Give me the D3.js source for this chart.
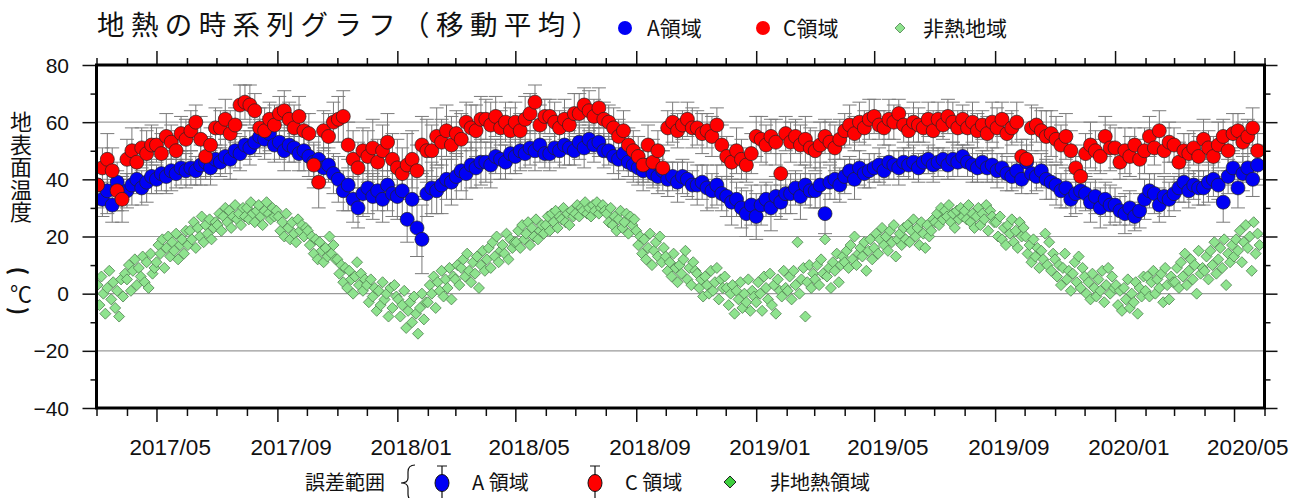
<!DOCTYPE html>
<html>
<head>
<meta charset="utf-8">
<script src="https://cdn.jsdelivr.net/npm/d3@7"></script>
<style>
body { margin: 0; background: #fff; }
text { font-family: "Liberation Sans", Arial, sans-serif; fill: #111; }
.jp { font-family: "Noto Sans CJK JP", "Noto Sans", sans-serif; }
</style>
</head>
<body>
<div id="chart"></div>
<script>
// moving averages of A and C areas, first point 2017-03-02, one every 5 days
const seriesStart = "2017-03-02";
const seriesStep = 5;
const aVals = [
  38,33,36,31,39,35, 36,38,40,37,39,41, 40,42,41,43,42,44,43, 44,43,45,46,44,47, 46,48,47,50,49,52, 51,53,55,54,56,52,
  53,50,52,51,49,50, 48,46,47,44,45,42, 40,36,38,33,30,35, 37,34,36,33,38,35,
  34,36,26,33,23,19,35, 37,36,38,40,39, 41,43,42,45,44,46, 46,45,48,47,46,49, 48,50,49,51,50,52,49, 49,51,50,52,51,50,
  53,51,54,52,53,50, 50,48,47,49,46,45, 44,43,45,42,41,43, 40,41,39,41,40,38, 38,39,37,36,38,35, 34,32,33,30,28,31,
  27,31,33,30,34,32,35, 35,37,34,38,36, 36,38,28,39,40,38, 41,43,40,44,42,43, 44,45,43,46,45,44,46, 45,46,44,46,47,45,
  46,47,45,47,46,48, 46,45,44,46,44,45, 43,44,42,41,43,40, 46,42,41,43,40,39, 38,36,37,33,35,36, 35,32,34,30,33,31,
  31,29,28,30,27,29,33, 36,35,31,34,33, 35,37,39,36,38,37, 37,39,40,38,32,41, 44,37,42,44,40,45];
const aErr = [
  7,6,8,6,7,6, 6,7,5,6,7,6, 5,6,6,7,5,6,6, 6,5,7,6,6,5, 5,6,7,6,6,5, 6,5,6,7,6,6,
  6,7,6,5,6,7, 7,6,8,7,6,7, 8,7,9,8,7,8, 9,8,7,8,9,8,
  8,9,8,9,10,12,8, 9,8,10,7,8, 8,7,9,8,7,8, 7,8,6,7,6,7, 6,7,5,6,7,6,5, 6,5,6,7,6,5,
  6,7,5,6,5,6, 5,6,7,6,5,6, 6,7,6,5,6,7, 6,5,7,6,6,5, 7,6,8,6,7,6, 7,8,6,7,8,7,
  8,7,6,8,7,6,7, 7,6,8,7,6, 6,8,7,6,7,6, 6,5,7,6,5,6, 5,6,5,6,5,6,5, 5,6,5,4,5,6,
  5,4,5,6,5,4, 5,6,5,4,5,6, 6,5,6,5,6,5, 6,7,5,6,7,6, 7,6,7,6,7,6, 6,7,6,7,6,7,
  6,5,7,6,5,6,7, 6,7,6,7,6, 6,5,7,6,5,6, 6,7,6,5,7,6, 6,7,6,5,6,7];
const cVals = [
  38,44,47,43,36,33, 47,50,46,51,49,52, 52,49,55,53,50,56,54, 57,60,54,48,52,58, 58,61,56,59,66,67, 66,64,58,57,61,59,
  63,64,61,58,62,57, 56,45,39,57,55,60, 61,62,52,47,44,50, 48,51,46,50,53,47,
  44,42,45,47,43,52,50, 50,55,53,57,52, 56,54,60,58,57,61, 61,59,62,58,60,57, 60,57,61,63,67,59,62, 62,60,58,61,59,63,
  63,66,64,62,65,61, 60,58,55,57,52,50, 48,45,52,46,50,44, 58,60,57,59,61,58, 58,56,57,55,59,52, 48,46,50,47,45,49,
  55,54,52,55,53,42,56, 53,55,52,54,51, 50,52,55,53,51,54, 57,59,56,60,58,61, 62,59,58,61,60,63,59, 57,60,59,58,61,57,
  61,59,62,60,58,61, 58,60,57,59,56,60, 58,61,56,58,60,48, 47,58,59,57,55,56, 54,52,55,50,44,41, 49,52,50,48,55,51,
  51,46,50,48,52,47,50, 55,51,57,50,53, 52,46,50,49,51,48, 54,51,48,52,55,50, 56,57,53,55,58,50];
const cErr = [
  8,7,9,8,7,8, 7,8,6,7,8,7, 6,7,8,6,7,6,7, 7,6,8,7,6,7, 6,7,8,6,7,6, 7,6,7,8,6,7,
  6,7,6,8,7,6, 7,8,9,7,8,7, 8,9,8,10,9,8, 9,10,8,9,10,9,
  10,9,11,10,9,10,11, 9,10,8,9,10, 8,9,7,8,9,8, 7,8,7,6,7,8, 7,6,8,7,6,7,6, 6,7,6,7,6,7,
  7,6,7,6,7,6, 6,7,6,7,6,7, 7,6,7,8,7,6, 6,7,6,5,6,7, 6,7,6,7,6,7, 7,6,8,7,6,7,
  7,8,7,6,8,7,6, 7,6,7,8,7, 7,8,6,7,8,7, 6,7,6,7,6,7, 6,5,6,7,6,5,6, 6,7,6,5,6,7,
  6,5,6,7,6,5, 6,7,6,5,6,7, 7,6,7,6,7,6, 7,8,6,7,9,8, 8,7,8,7,8,7, 7,8,7,6,7,8,
  7,6,8,7,6,7,8, 7,6,7,8,7, 6,7,6,7,6,7, 7,6,7,8,6,7, 7,6,7,6,7,6];

// non geothermal area, first point 2017-03-02, one every 2 days
const greenStart = "2017-03-02";
const greenStep = 2;
const gVals = [
  3,-4,6,0,-7,2,8,-2,4,-5,1,-8,5,-1,7, 5,10,1,8,12,3,9,6,13,4,11,2,14,7,9, 11,17,14,19,9,16,20,13,18,15,21,12,17,19,14,22,
  17,22,19,25,16,23,20,27,18,24,21,26,19,23,25, 24,28,22,27,30,25,29,23,27,31,26,28,24,30,27, 30,26,32,28,25,29,31,27,24,29,32,28,26,30,27,29,
  27,22,25,20,28,23,19,25,21,18,26,22,24,20,23, 22,17,20,14,19,12,18,15,11,16,13,20,14,17,12, 12,7,10,4,9,2,8,5,0,6,11,3,7,1,5,
  3,-3,5,-1,2,-6,1,-4,4,-2,0,-8,2,-5,3,-1,
  -2,-8,-4,1,-12,-6,-3,-10,-1,-7,-14,-5,0,-9,-3, -3,3,0,6,-5,4,1,8,-1,5,2,9,-2,6, 5,10,3,9,12,6,14,8,4,11,7,13,2,10,15,8,
  12,16,9,18,13,20,11,15,17,14,21,12,19,16,18, 18,22,16,24,19,21,25,17,23,20,26,19,22,24,21, 24,27,22,28,25,29,23,27,26,30,25,28,24,29,27,
  28,31,27,30,29,32,28,30,27,31,29,32,28,30,31,29, 28,25,30,24,27,22,26,29,23,25,28,21,27,24,26, 22,17,20,14,19,12,16,21,10,15,18,13,20,11,16,
  13,8,11,6,14,9,4,10,7,12,15,5,9,3,11,8, 7,2,5,-1,6,3,0,8,1,4,9,-2,5,2,6, 2,-4,0,3,-7,1,-2,4,-5,0,-3,5,-6,1,-1,
  -3,4,0,-6,6,2,-2,7,-4,3,-7,5,1,-1,8,2, 1,6,-2,8,3,18,0,5,9,-8,4,10,2,7, 5,10,3,12,7,19,6,9,2,11,8,14,4,10,13,
  11,15,9,17,12,20,10,14,16,13,18,8,15,19,12, 16,21,14,19,23,17,20,15,22,18,24,13,19,21,17,23, 19,24,18,22,26,20,23,17,25,21,16,24,20,22,26,
  25,28,24,30,26,29,27,31,25,28,23,29,26,30,27, 29,26,31,25,28,23,27,30,24,28,26,31,22,29,27,25, 25,20,27,19,23,17,24,21,26,18,22,16,25,20,23,
  20,14,17,11,19,13,16,9,15,12,21,10,18,8,14, 12,6,10,3,9,14,5,8,1,7,11,4,13,2,9, 6,0,4,-2,7,2,-1,5,1,8,-3,3,9,0,6,2,
  3,-4,1,-6,2,-2,5,-5,0,-3,4,-7,2,-1,6, 1,6,-1,4,8,0,5,2,7,-3,9,3,-2,6,4, 4,9,2,11,6,14,3,8,12,5,10,0,15,7,9,
  8,13,5,15,10,18,7,12,16,9,19,3,14,11,17, 13,19,15,22,11,18,24,16,20,8,25,14,21,17];

const yTicks = [-40, -20, 0, 20, 40, 60, 80];
const xLabels = ["2017/05","2017/09","2018/01","2018/05","2018/09","2019/01","2019/05","2019/09","2020/01","2020/05"];

const W = 1307, H = 498;
const mLeft = 96.5, mRight = 1264.5, mTop = 65, mBottom = 408;
const parse = d3.timeParse("%Y-%m-%d");
const parseYM = d3.timeParse("%Y/%m");

const x = d3.scaleTime()
  .domain([new Date(2017, 2, 1), new Date(2020, 5, 1)])
  .range([mLeft, mRight]);
const y = d3.scaleLinear().domain([-40, 80]).range([mBottom, mTop]);

const aData = aVals.map((v, i) => ({ d: d3.timeDay.offset(parse(seriesStart), i * seriesStep), v: v, e: aErr[i] }));
const cData = cVals.map((v, i) => ({ d: d3.timeDay.offset(parse(seriesStart), i * seriesStep), v: v, e: cErr[i] }));
const gData = gVals.map((v, i) => ({ d: d3.timeDay.offset(parse(greenStart), i * greenStep), v: v }));

const svg = d3.select("#chart").append("svg")
  .attr("width", W).attr("height", H);

svg.append("clipPath").attr("id", "plot")
  .append("rect").attr("x", mLeft).attr("y", mTop)
  .attr("width", mRight - mLeft).attr("height", mBottom - mTop);

const plot = svg.append("g").attr("clip-path", "url(#plot)");

// grid
plot.selectAll("line.grid")
  .data(yTicks.filter(t => t > -40 && t < 80))
  .enter().append("line")
  .attr("class", "grid")
  .attr("x1", mLeft).attr("x2", mRight)
  .attr("y1", d => y(d)).attr("y2", d => y(d))
  .attr("stroke", "#9a9a9a").attr("stroke-width", 1.2);

// green diamonds
const ds = 5.5;
plot.selectAll("path.g")
  .data(gData)
  .enter().append("path")
  .attr("class", "g")
  .attr("d", d => {
    const px = x(d.d), py = y(d.v);
    return `M${px},${py - ds}L${px + ds},${py}L${px},${py + ds}L${px - ds},${py}Z`;
  })
  .attr("fill", "#8ee38e").attr("stroke", "#4f7f4f").attr("stroke-width", 0.8);

// error bars
function errBars(data) {
  const g = plot.append("g").attr("stroke", "#7a7a7a").attr("stroke-width", 1).attr("fill", "none");
  g.selectAll("path")
    .data(data)
    .enter().append("path")
    .attr("d", d => {
      const px = x(d.d), y1 = y(d.v + d.e), y2 = y(d.v - d.e);
      return `M${px},${y1}L${px},${y2}M${px - 7},${y1}L${px + 7},${y1}M${px - 7},${y2}L${px + 7},${y2}`;
    });
}
errBars(aData);
errBars(cData);

plot.selectAll("circle.a")
  .data(aData)
  .enter().append("circle")
  .attr("class", "a")
  .attr("cx", d => x(d.d)).attr("cy", d => y(d.v)).attr("r", 7)
  .attr("fill", "#0000f5").attr("stroke", "#222").attr("stroke-width", 0.7);

plot.selectAll("circle.c")
  .data(cData)
  .enter().append("circle")
  .attr("class", "c")
  .attr("cx", d => x(d.d)).attr("cy", d => y(d.v)).attr("r", 7)
  .attr("fill", "#ff0000").attr("stroke", "#222").attr("stroke-width", 0.7);

// ticks
const months = d3.timeMonth.range(new Date(2017, 2, 1), new Date(2020, 5, 2));
const isMajor = d => d.getMonth() % 4 === 0;

const xb = svg.append("g").attr("transform", `translate(0,${mBottom})`)
  .call(d3.axisBottom(x).tickValues(months).tickFormat("").tickSizeOuter(0));
xb.select(".domain").remove();
xb.selectAll(".tick line").attr("y2", d => isMajor(d) ? 14 : 8).attr("stroke", "#111").attr("stroke-width", 1.5);

const xt = svg.append("g").attr("transform", `translate(0,${mTop})`)
  .call(d3.axisTop(x).tickValues(months).tickFormat("").tickSizeOuter(0));
xt.select(".domain").remove();
xt.selectAll(".tick line").attr("y2", d => isMajor(d) ? -14 : -7).attr("stroke", "#111").attr("stroke-width", 1.5);

const yVals = d3.range(-40, 81, 10);
const yl = svg.append("g").attr("transform", `translate(${mLeft},0)`)
  .call(d3.axisLeft(y).tickValues(yVals).tickFormat("").tickSizeOuter(0));
yl.select(".domain").remove();
yl.selectAll(".tick line").attr("x2", d => d % 20 === 0 ? -14 : -6).attr("stroke", "#111").attr("stroke-width", 1.5);

const yr = svg.append("g").attr("transform", `translate(${mRight},0)`)
  .call(d3.axisRight(y).tickValues(yVals).tickFormat("").tickSizeOuter(0));
yr.select(".domain").remove();
yr.selectAll(".tick line").attr("x2", d => d % 20 === 0 ? 13 : 6).attr("stroke", "#111").attr("stroke-width", 1.5);

// frame
svg.append("rect")
  .attr("x", mLeft).attr("y", mTop).attr("width", mRight - mLeft).attr("height", mBottom - mTop)
  .attr("fill", "none").attr("stroke", "#000").attr("stroke-width", 3);

// tick labels
svg.selectAll("text.yl")
  .data(yTicks)
  .enter().append("text")
  .attr("x", 69).attr("y", d => y(d) + 7.5)
  .attr("text-anchor", "end")
  .style("font-size", "21px")
  .text(d => d < 0 ? "\u2212" + Math.abs(d) : d);

svg.selectAll("text.xl")
  .data(xLabels)
  .enter().append("text")
  .attr("x", d => x(d3.timeDay.offset(parseYM(d), 14)))
  .attr("y", 455)
  .attr("text-anchor", "middle")
  .style("font-size", "22.5px")
  .text(d => d);

// y title, written vertically
svg.append("text").attr("class", "jp")
  .attr("x", 21).attr("y", 111)
  .style("writing-mode", "vertical-rl")
  .style("font-size", "22px").style("letter-spacing", "0.5px")
  .text("地表面温度");
// the brackets are turned a quarter so they open up and down
svg.append("text").attr("class", "jp")
  .attr("transform", "translate(21,271) rotate(90)")
  .attr("text-anchor", "middle").attr("dominant-baseline", "central")
  .style("font-size", "22px").style("font-weight", "bold")
  .text("(");
svg.append("text").attr("class", "jp")
  .attr("x", 21).attr("y", 292)
  .attr("text-anchor", "middle").attr("dominant-baseline", "central")
  .style("font-size", "22px")
  .text("℃");
svg.append("text").attr("class", "jp")
  .attr("transform", "translate(21,311) rotate(90)")
  .attr("text-anchor", "middle").attr("dominant-baseline", "central")
  .style("font-size", "22px").style("font-weight", "bold")
  .text(")");

// title
svg.append("text").attr("class", "jp")
  .attr("x", 97).attr("y", 35)
  .style("font-size", "27.5px").style("letter-spacing", "6.4px")
  .text("地熱の時系列グラフ（移動平均）");

// top legend
svg.append("circle").attr("cx", 625).attr("cy", 28).attr("r", 7).attr("fill", "#0000f5");
svg.append("text").attr("class", "jp").attr("x", 647).attr("y", 36).style("font-size", "21px").text("A領域");
svg.append("circle").attr("cx", 763).attr("cy", 28).attr("r", 7).attr("fill", "#ff0000");
svg.append("text").attr("class", "jp").attr("x", 783).attr("y", 36).style("font-size", "21px").text("C領域");
svg.append("path").attr("d", "M900,23L905,28L900,33L895,28Z").attr("fill", "#8ee38e").attr("stroke", "#4f7f4f").attr("stroke-width", 0.8);
svg.append("text").attr("class", "jp").attr("x", 923).attr("y", 36).style("font-size", "21px").text("非熱地域");

// bottom legend
svg.append("text").attr("class", "jp").attr("x", 305).attr("y", 490).style("font-size", "20px").text("誤差範囲");
svg.append("path")
  .attr("d", "M415,465Q408,465 408,472L408,478Q408,483 401,483Q408,483 408,488L408,494Q408,501 415,501")
  .attr("fill", "none").attr("stroke", "#111").attr("stroke-width", 1.2);

function legendBar(cx, fill) {
  svg.append("path").attr("d", `M${cx},466L${cx},500M${cx - 5},466L${cx + 5},466`)
    .attr("stroke", "#111").attr("stroke-width", 1.2);
  svg.append("ellipse").attr("cx", cx).attr("cy", 483).attr("rx", 7).attr("ry", 8.5)
    .attr("fill", fill).attr("stroke", "#111").attr("stroke-width", 1);
}
legendBar(442, "#0000f5");
svg.append("text").attr("class", "jp").attr("x", 472).attr("y", 490).style("font-size", "20px").text("A 領域");
legendBar(595, "#ff0000");
svg.append("text").attr("class", "jp").attr("x", 625).attr("y", 490).style("font-size", "20px").text("C 領域");
svg.append("path").attr("d", "M730,476L736,482L730,488L724,482Z").attr("fill", "#3ecf3e").attr("stroke", "#222").attr("stroke-width", 1);
svg.append("text").attr("class", "jp").attr("x", 770).attr("y", 490).style("font-size", "20px").text("非地熱領域");
</script>
</body>
</html>
